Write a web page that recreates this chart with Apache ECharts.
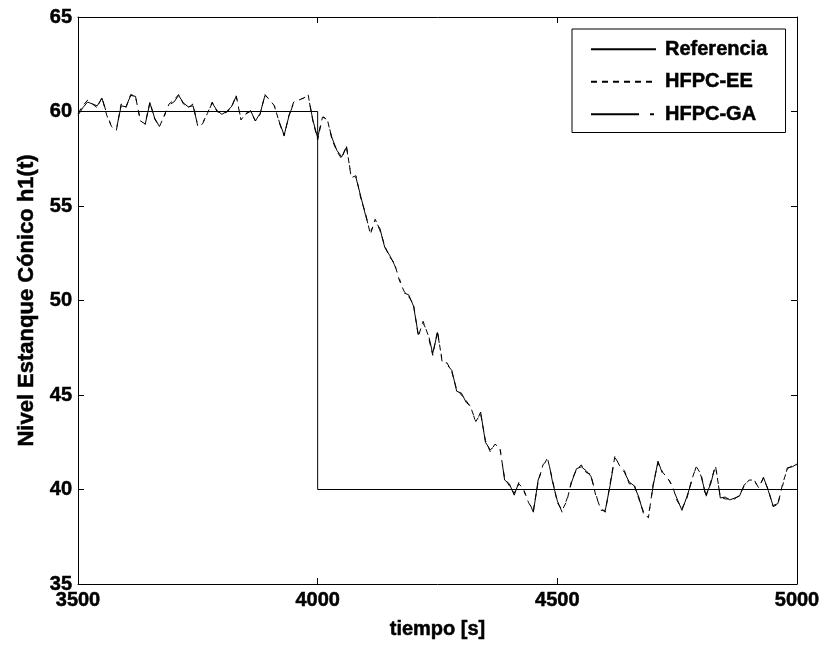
<!DOCTYPE html>
<html>
<head>
<meta charset="utf-8">
<script src="https://cdn.jsdelivr.net/npm/echarts@6/dist/echarts.min.js"></script>
<style>
html,body{margin:0;padding:0;background:#fff;}
#c{width:825px;height:646px;}
</style>
</head>
<body>
<div id="c"></div>
<script>
// Sample times [s]
const times = [
 3500,3510,3520,3530,3540,3550,3560,3570,3580,3590,
 3600,3610,3620,3630,3640,3650,3660,3670,3680,3690,
 3700,3710,3720,3730,3740,3750,3760,3770,3780,3790,
 3800,3810,3820,3830,3840,3850,3860,3870,3880,3890,
 3900,3910,3920,3930,3940,3950,3960,3970,3980,3990,
 4000,4010,4020,4030,4040,4050,4060,4070,4080,4090,
 4100,4110,4120,4130,4140,4150,4160,4170,4180,4190,
 4200,4210,4220,4230,4240,4250,4260,4270,4280,4290,
 4300,4310,4320,4330,4340,4350,4360,4370,4380,4390,
 4400,4410,4420,4430,4440,4450,4460,4470,4480,4490,
 4500,4510,4520,4530,4540,4550,4560,4570,4580,4590,
 4600,4610,4620,4630,4640,4650,4660,4670,4680,4690,
 4700,4710,4720,4730,4740,4750,4760,4770,4780,4790,
 4800,4810,4820,4830,4840,4850,4860,4870,4880,4890,
 4900,4910,4920,4930,4940,4950,4960,4970,4980,4990,
 5000];

// HFPC-EE level
const hfpcEE = [
 59.9,60.3,60.6,60.4,60.2,60.75,59.8,59.2,59.0,60.4,
 60.2,60.9,60.8,59.5,59.35,60.5,59.6,59.2,59.8,60.4,
 60.6,60.9,60.4,60.2,60.4,59.2,59.35,59.9,60.5,60.0,
 59.9,59.95,60.2,60.85,59.55,59.9,60.0,59.5,59.85,60.9,
 60.6,60.3,59.4,58.7,59.8,60.5,60.6,60.7,60.9,59.5,
 58.5,59.7,59.6,58.5,57.9,57.5,58.2,56.5,56.6,55.4,
 54.6,53.5,54.3,53.7,52.9,52.3,52.0,51.1,50.5,50.2,
 49.8,48.1,48.9,48.2,47.1,48.4,46.7,46.7,46.2,45.3,
 45.0,44.7,44.3,43.6,44.0,42.6,42.0,42.4,42.2,40.6,
 40.2,39.8,40.3,40.0,39.3,38.9,40.4,41.3,41.6,40.5,
 39.3,38.9,39.4,40.5,41.05,41.3,40.9,40.8,39.7,39.0,
 38.8,40.3,41.75,41.25,41.0,40.3,40.3,39.5,38.8,38.5,
 40.3,41.4,40.9,40.6,40.2,39.4,39.0,39.5,40.5,41.2,
 40.8,39.6,40.4,41.25,39.6,39.5,39.5,39.5,39.7,40.2,
 40.5,40.5,40.1,40.6,40.0,39.1,39.2,40.3,41.1,41.25,
 41.3];

// HFPC-GA level
const hfpcGA = [
 59.8,60.2,60.5,60.4,60.3,60.7,59.9,59.2,59.05,60.3,
 60.25,60.85,60.8,59.55,59.3,60.45,59.65,59.2,59.75,60.35,
 60.5,60.85,60.45,60.25,60.3,59.25,59.4,59.9,60.45,60.05,
 59.85,60.0,60.25,60.8,59.6,59.85,60.05,59.5,59.9,60.85,
 60.65,60.25,59.45,58.75,59.75,60.45,60.65,60.7,60.85,59.55,
 58.6,59.75,59.55,58.6,57.95,57.6,58.1,56.6,56.5,55.5,
 54.5,53.6,54.2,53.8,52.8,52.4,51.9,51.2,50.4,50.3,
 49.7,48.2,48.8,48.3,47.2,48.3,46.8,46.6,46.3,45.2,
 45.1,44.6,44.4,43.5,44.1,42.5,42.1,42.3,42.3,40.5,
 40.3,39.7,40.4,39.9,39.4,38.8,40.5,41.2,41.7,40.4,
 39.4,38.8,39.5,40.4,41.1,41.2,41.0,40.7,39.8,38.9,
 38.9,40.2,41.7,41.3,40.9,40.4,40.2,39.6,38.7,38.6,
 40.2,41.5,40.8,40.7,40.1,39.5,38.9,39.6,40.4,41.25,
 40.7,39.7,40.3,41.3,39.55,39.6,39.45,39.55,39.65,40.25,
 40.45,40.55,40.05,40.65,39.95,39.15,39.25,40.2,41.15,41.2,
 41.35];

// Reference setpoint (step)
const refTimes = [3500, 4000, 4000, 5000];
const refValues = [60, 60, 40, 40];

const seriesNames = ['Referencia', 'HFPC-EE', 'HFPC-GA'];
const xTicks = [3500, 4000, 4500, 5000];
const yTicks = [35, 40, 45, 50, 55, 60, 65];

const zip = (a, b) => a.map((v, i) => [v, b[i]]);
const FONT = '"Liberation Sans", Arial, sans-serif';
const heavy = {textBorderColor: '#000', textBorderWidth: 0.5};

const chart = echarts.init(document.getElementById('c'), null, {renderer: 'canvas'});

const axisCommon = {
  axisLine: {show: true, onZero: false, lineStyle: {color: '#000', width: 1}},
  axisTick: {show: true, inside: true, length: 6, lineStyle: {color: '#000', width: 1}},
  splitLine: {show: false}
};
const plain = v => String(v);

chart.setOption({
  animation: false,
  backgroundColor: '#fff',
  grid: {left: 78, right: 28, top: 17, bottom: 62, containLabel: false},
  legend: {
    data: seriesNames,
    orient: 'vertical',
    left: 572,
    top: 29,
    padding: [10, 18, 8, 18],
    itemWidth: 65,
    itemHeight: 18,
    itemGap: 12,
    backgroundColor: '#fff',
    borderColor: '#000',
    borderWidth: 1,
    borderRadius: 0,
    align: 'left',
    itemStyle: {opacity: 0},
    textStyle: Object.assign({fontFamily: FONT, fontWeight: 'bold', fontSize: 20, lineHeight: 18, color: '#000', padding: [0, 0, 0, 4]}, heavy)
  },
  xAxis: [
    Object.assign({}, axisCommon, {
      type: 'value', position: 'bottom',
      min: xTicks[0], max: xTicks[xTicks.length - 1], interval: 500,
      name: 'tiempo [s]', nameLocation: 'middle', nameGap: 35,
      nameTextStyle: Object.assign({fontFamily: FONT, fontWeight: 'bold', fontSize: 20, color: '#000'}, heavy),
      axisLabel: Object.assign({fontFamily: FONT, fontWeight: 'bold', fontSize: 20, color: '#000', margin: 6, formatter: plain}, heavy)
    }),
    Object.assign({}, axisCommon, {
      type: 'value', position: 'top',
      min: xTicks[0], max: xTicks[xTicks.length - 1], interval: 500,
      axisLabel: {show: false}
    })
  ],
  yAxis: [
    Object.assign({}, axisCommon, {
      type: 'value', position: 'left',
      min: yTicks[0], max: yTicks[yTicks.length - 1], interval: 5,
      name: 'Nivel Estanque Cónico h1(t)', nameLocation: 'middle', nameGap: 30,
      nameTextStyle: Object.assign({fontFamily: FONT, fontWeight: 'bold', fontSize: 22, color: '#000'}, heavy),
      axisLabel: Object.assign({fontFamily: FONT, fontWeight: 'bold', fontSize: 20, color: '#000', margin: 6, formatter: plain}, heavy)
    }),
    Object.assign({}, axisCommon, {
      type: 'value', position: 'right',
      min: yTicks[0], max: yTicks[yTicks.length - 1], interval: 5,
      axisLabel: {show: false}
    })
  ],
  series: [
    {
      name: seriesNames[0], type: 'line', data: zip(refTimes, refValues),
      symbol: 'none', showSymbol: false, color: '#000',
      lineStyle: {color: '#000', width: 1, type: 'solid'}
    },
    {
      name: seriesNames[1], type: 'line', data: zip(times, hfpcEE),
      symbol: 'none', showSymbol: false, color: '#000',
      lineStyle: {color: '#000', width: 1, type: [6, 5]}
    },
    {
      name: seriesNames[2], type: 'line', data: zip(times, hfpcGA),
      symbol: 'none', showSymbol: false, color: '#000',
      lineStyle: {color: '#000', width: 1, type: [48, 11, 4, 11]}
    }
  ]
});
</script>
</body>
</html>
